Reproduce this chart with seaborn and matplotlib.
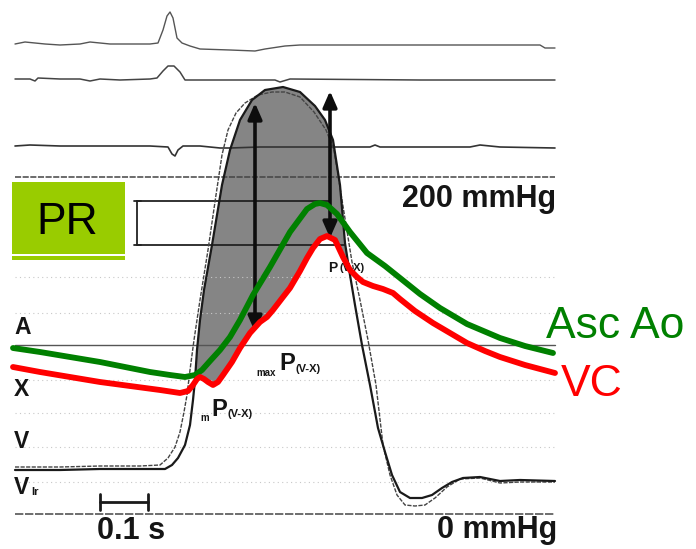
import numpy as np
import matplotlib
matplotlib.use("Agg")
import matplotlib.pyplot as plt
import seaborn as sns
from matplotlib.patches import Rectangle

# ---------------- data (pixel space) ----------------
ecg1_x = [15, 25, 35, 45, 60, 80, 90, 100, 110, 150, 158, 163, 167, 170, 173, 177, 182, 190, 200, 230, 255, 265, 285, 300, 400, 540, 545, 555]
ecg1_y = [44, 42, 43, 44, 45, 44, 42, 43, 44, 44, 43, 30, 16, 12, 18, 38, 43, 46, 49, 50, 51, 49, 46, 45, 45, 45, 48, 48]

ecg2_x = [15, 30, 35, 38, 60, 80, 90, 100, 120, 150, 157, 163, 168, 174, 180, 185, 240, 275, 280, 290, 420, 500, 555]
ecg2_y = [79, 79, 81, 78, 79, 79, 81, 79, 80, 79, 78, 71, 66, 66, 72, 80, 80, 80, 82, 79, 80, 80, 80]

ecg3_x = [15, 30, 60, 100, 150, 168, 172, 175, 178, 183, 200, 220, 230, 260, 300, 330, 370, 375, 380, 470, 480, 500, 555]
ecg3_y = [146, 145, 146, 146, 146, 147, 154, 156, 150, 146, 146, 148, 148, 147, 147, 147, 147, 145, 147, 147, 145, 147, 148]

# ventricular pressure traces (V inner / dome, V outer)
vb_x = [15, 60, 100, 140, 165, 172, 178, 185, 190, 193, 195, 197, 200, 204, 212, 222, 230, 240, 252, 265, 283, 300, 315, 325, 333, 340, 345, 350, 355, 362, 370, 378, 385, 392, 400, 410, 422, 432, 442, 452, 463, 480, 500, 520, 555]
vb_y = [470, 470, 469, 469, 469, 465, 458, 445, 425, 400, 380, 350, 320, 290, 245, 185, 150, 120, 100, 90, 87, 92, 106, 120, 140, 185, 243, 275, 305, 345, 385, 428, 452, 475, 492, 498, 498, 495, 488, 482, 478, 477, 481, 480, 481]
va_x = [15, 60, 100, 140, 160, 168, 175, 180, 184, 187, 190, 194, 200, 208, 216, 222, 228, 236, 245, 258, 272, 285, 300, 314, 326, 334, 342, 352, 360, 368, 376, 383, 390, 397, 405, 415, 425, 435, 447, 460, 480, 500, 520, 555]
va_y = [467, 467, 466, 466, 465, 458, 447, 432, 412, 395, 370, 340, 300, 250, 195, 155, 130, 113, 103, 95, 92, 92, 97, 112, 130, 150, 200, 262, 300, 340, 385, 445, 475, 495, 505, 506, 505, 498, 487, 479, 478, 483, 482, 482]

# Asc Ao (green) and VC (red) pressure curves
asc_x = [13, 40, 70, 100, 130, 150, 170, 185, 195, 202, 210, 220, 230, 240, 253, 270, 290, 307, 315, 320, 327, 337, 350, 367, 385, 400, 420, 440, 467, 500, 525, 553]
asc_y = [348, 352, 357, 362, 368, 372, 375, 377, 375, 370, 361, 350, 337, 320, 295, 267, 232, 209, 204, 203, 205, 214, 232, 253, 266, 278, 294, 308, 324, 338, 346, 353]
vc_x = [13, 40, 70, 100, 130, 160, 180, 188, 193, 197, 200, 204, 208, 213, 218, 223, 232, 240, 250, 260, 267, 273, 283, 290, 300, 307, 313, 320, 327, 335, 343, 350, 357, 363, 373, 383, 393, 400, 415, 433, 450, 467, 485, 500, 525, 555]
vc_y = [367, 372, 377, 382, 386, 390, 393, 391, 385, 379, 377, 379, 382, 385, 382, 375, 362, 348, 333, 322, 317, 310, 297, 288, 271, 258, 248, 239, 236, 240, 257, 270, 277, 282, 286, 289, 293, 299, 311, 323, 333, 343, 351, 357, 365, 373]

arrow_x = [255, 330]
arrow_top = [103, 91]
arrow_bottom = [332, 238]

solid_rows = [345]
grid_rows = [277, 313, 380, 413, 447, 482]

trace_labels = ["A", "X", "V", "V"]
trace_label_y = [328, 389, 442, 488]

# ---------------- figure ----------------
sns.set_theme(style="white")
plt.rcParams['font.family'] = ['Liberation Sans', 'DejaVu Sans']

W, H = 696, 549
fig = plt.figure(figsize=(W / 100, H / 100), dpi=100)
ax = fig.add_axes([0, 0, 1, 1])
ax.set_xlim(0, W)
ax.set_ylim(H, 0)
ax.axis('off')

INK = '#1a1a1a'


def trace(x, y, **kw):
    sns.lineplot(x=x, y=y, sort=False, estimator=None, ax=ax, legend=False, **kw)


# faint grid of the scanned record
for gy in grid_rows:
    trace([15, 555], [gy, gy], color='#c8c8c8', lw=0.8, linestyle=(0, (1, 3)))
for gy in solid_rows:
    trace([15, 555], [gy, gy], color='#555555', lw=1.0)
trace([15, 555], [177, 177], color='#444444', lw=1.1, linestyle=(0, (4, 1)))
trace([15, 555], [514, 514], color='#555555', lw=1.2, linestyle=(0, (5, 1)))

# ECG-like traces
trace(ecg1_x, ecg1_y, color='#555555', lw=1.0)
trace(ecg2_x, ecg2_y, color='#444444', lw=1.1)
trace(ecg3_x, ecg3_y, color='#333333', lw=1.2)

# shaded pressure gradient area (between V dome and VC curve)
vbx = np.array(vb_x); vby = np.array(vb_y)
vcx = np.array(vc_x); vcy = np.array(vc_y)
m1 = (vbx >= 193) & (vbx <= 350)
m2 = (vcx >= 193) & (vcx <= 350)
poly_x = np.concatenate([vbx[m1], vcx[m2][::-1]])
poly_y = np.concatenate([vby[m1], vcy[m2][::-1]])
ax.fill(poly_x, poly_y, color='#858585', zorder=1.5, lw=0)

# bracket (200 mmHg reference)
trace([137, 330], [201, 201], color='#222222', lw=1.3)
trace([137, 345], [245, 245], color='#222222', lw=1.3)
trace([137, 137], [201, 245], color='#222222', lw=1.3)
trace([134, 141], [201, 201], color='#222222', lw=1.3)
trace([134, 141], [245, 245], color='#222222', lw=1.3)

# ventricular traces
trace(va_x, va_y, color='#444444', lw=1.0, linestyle=(0, (3, 1)))
trace(vb_x, vb_y, color=INK, lw=1.6)

# double arrows
for ax_x, yt, yb in zip(arrow_x, arrow_top, arrow_bottom):
    ax.annotate('', xy=(ax_x, yt), xytext=(ax_x, yb),
                arrowprops=dict(arrowstyle='<|-|>,head_length=0.8,head_width=0.35',
                                color='#0d0d0d', lw=2.6, shrinkA=0, shrinkB=0), zorder=3)

# annotation texts of the scan
bold = dict(fontweight='bold', color='#151515')
ax.text(256, 373, 'max', fontsize=7, va='center', ha='left', **bold)
ax.text(279, 364, 'P', fontsize=17, va='center', ha='left', **bold)
ax.text(295, 369, '(V-X)', fontsize=8, va='center', ha='left', **bold)
ax.text(200, 418, 'm', fontsize=7, va='center', ha='left', **bold)
ax.text(211, 410, 'P', fontsize=17, va='center', ha='left', **bold)
ax.text(228, 414, '(V-X)', fontsize=8, va='center', ha='left', **bold)
ax.text(328, 268, 'P', fontsize=10, va='center', ha='left', zorder=2, **bold)
ax.text(340, 268, '(V-X)', fontsize=8, va='center', ha='left', zorder=2, **bold)

for lab, ly in zip(trace_labels, trace_label_y):
    ax.text(14, ly, lab, fontsize=16.5, va='center', ha='left', **bold)
ax.text(31, 492, 'lr', fontsize=8, va='center', ha='left', **bold)

# scale bar
trace([100, 148], [502, 502], color=INK, lw=2)
trace([100, 100], [494, 510], color=INK, lw=2)
trace([148, 148], [494, 510], color=INK, lw=2)
ax.text(97, 531, '0.1 s', fontsize=22, va='center', ha='left', **bold)

ax.text(402, 199, '200 mmHg', fontsize=22, va='center', ha='left', zorder=2, **bold)
ax.text(437, 530, '0 mmHg', fontsize=22, va='center', ha='left', zorder=2, **bold)
# the scanned figure is cut at its right edge
ax.add_patch(Rectangle((556, 182), 140, 32, facecolor='white', edgecolor='none', zorder=2.5))
ax.add_patch(Rectangle((556, 516), 140, 33, facecolor='white', edgecolor='none', zorder=2.5))

# coloured overlay curves
trace(asc_x, asc_y, color='#008000', lw=4.2, zorder=4)
trace(vc_x, vc_y, color='#ff0000', lw=4.2, zorder=5)

# PR box
ax.add_patch(Rectangle((12, 182), 113, 72, facecolor='#99cc00', edgecolor='none', zorder=6))
ax.add_patch(Rectangle((12, 256), 113, 4, facecolor='#99cc00', edgecolor='none', zorder=6))
ax.text(67, 222, 'PR', fontsize=32, color='black', va='center', ha='center', zorder=7)

# series labels
ax.text(546, 326, 'Asc Ao', fontsize=32, color='#008000', va='center', ha='left', zorder=7)
ax.text(561, 384, 'VC', fontsize=32, color='#ff0000', va='center', ha='left', zorder=7)

fig.savefig('out.png', dpi=100)
